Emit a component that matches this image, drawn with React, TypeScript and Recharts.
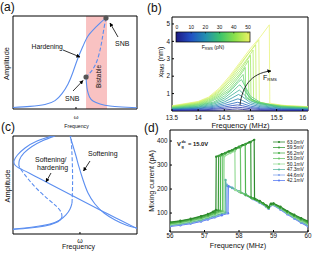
import React from 'react';
import { LineChart, Line, XAxis, YAxis, ReferenceArea, ReferenceDot, Legend } from 'recharts';

const FONT = '"Liberation Sans", Arial, Helvetica, sans-serif';
const BLUE = '#5b8ef0';

// ---------- panel (a): hardening response (arbitrary units 0-100)
const aUpper = [[0, 1.6], [13.7, 2.8], [25.8, 4.8], [33.9, 9], [39.5, 16.5], [44.4, 26.9], [48.4, 39.8], [52.4, 54.8], [56.5, 67.7], [60.5, 78.5], [66.1, 87.1], [71, 93.5], [75, 97.8]];
const aUnstable = [[75, 97.8], [73.4, 87.1], [71.8, 74.2], [70.2, 63.4], [67.7, 51.6], [64.5, 43], [61.3, 37.6], [58.9, 34.4]];
const aLower = [[58.9, 34.4], [59.3, 26.9], [60.1, 19.4], [61.7, 12.9], [64.5, 8.6], [70.2, 5.4], [78.2, 3.2], [87.9, 2.2], [100, 1.4]];
const aSNB = [[75, 97.8], [58.9, 34.4]];
const aBistable = [58.9, 75.8];
const aOmega = [50.8];

// ---------- panel (c): softening and softening/hardening (arbitrary units 0-100)
const cSoftLower = [[0, 5.1], [16.1, 7.1], [29.8, 10.2], [37.9, 14.3], [42.7, 19.4], [46, 25.5], [47.6, 31.6]];
const cSoftUnstable = [[47.6, 31.6], [48, 46.9], [48, 63.3], [47.6, 80.6], [46.8, 100]];
const cSoftUpper = [[46, 100], [48.4, 89.8], [50.8, 79.6], [53.2, 68.4], [56.5, 55.1], [60.5, 41.8], [66.1, 30.6], [73.4, 21.4], [82.3, 14.3], [91.1, 9.2], [100, 6.1]];
const cSHOuter = [[31.5, 100], [19.4, 94.9], [9.7, 87.8], [3.6, 80.6], [0.8, 74.5], [1.6, 70.4], [4.8, 67.3], [13.7, 61.7], [29.8, 51], [50, 37.8], [70.2, 24.5], [86.3, 14.3], [100, 5.6]];
const cSHInnerLower = [[0, 4.6], [13.7, 6.1], [25.8, 8.2], [33.9, 11.2], [37.9, 14.3], [39.5, 17.3]];
const cSHInnerUnstable = [[39.5, 17.3], [38.7, 22.4], [34.7, 28.6], [28.2, 35.7], [20.2, 44.9], [12.9, 55.1], [7.3, 64.3], [4.8, 69.4]];
const cSHInnerUpper = [[4.8, 69.4], [5.2, 75.5], [8.9, 82.7], [15.3, 89.3], [23.4, 94.9], [33.9, 100]];
const cOmega = [54];

// ---------- panel (b): x_RMS (nm) vs frequency (MHz), one curve per drive force
const bF50 = [[13.5, 0.3], [14.0, 0.55], [14.2, 0.8], [14.4, 1.3], [14.6, 2.0], [14.8, 2.8], [15.0, 3.6], [15.2, 4.3], [15.36, 4.95], [15.37, 0.45], [15.6, 0.33], [16.1, 0.25]];
const bF47 = [[13.5, 0.28], [14.0, 0.52], [14.2, 0.76], [14.4, 1.22], [14.6, 1.9], [14.8, 2.7], [15.0, 3.45], [15.16, 4.1], [15.17, 0.5], [15.4, 0.38], [15.7, 0.3], [16.1, 0.24]];
const bF44 = [[13.5, 0.26], [14.0, 0.49], [14.2, 0.72], [14.4, 1.15], [14.6, 1.8], [14.8, 2.6], [14.95, 3.25], [15.1, 3.8], [15.11, 0.55], [15.4, 0.36], [15.7, 0.28], [16.1, 0.22]];
const bF41 = [[13.5, 0.25], [14.0, 0.46], [14.2, 0.68], [14.4, 1.08], [14.6, 1.7], [14.8, 2.45], [14.95, 3.05], [15.05, 3.5], [15.06, 0.6], [15.3, 0.4], [15.7, 0.27], [16.1, 0.21]];
const bF38 = [[13.5, 0.24], [14.0, 0.43], [14.2, 0.63], [14.4, 1.0], [14.6, 1.58], [14.8, 2.3], [14.92, 2.85], [15.0, 3.2], [15.01, 0.65], [15.3, 0.38], [15.7, 0.26], [16.1, 0.2]];
const bF35 = [[13.5, 0.22], [14.0, 0.4], [14.2, 0.58], [14.4, 0.93], [14.6, 1.45], [14.8, 2.15], [14.9, 2.6], [14.96, 2.9], [14.97, 0.7], [15.2, 0.42], [15.6, 0.27], [16.1, 0.2]];
const bF32 = [[13.5, 0.2], [14.0, 0.37], [14.2, 0.53], [14.4, 0.85], [14.6, 1.3], [14.75, 1.85], [14.85, 2.25], [14.9, 2.5], [14.91, 0.75], [15.1, 0.48], [15.5, 0.28], [16.1, 0.19]];
const bF29 = [[13.5, 0.19], [14.0, 0.34], [14.2, 0.48], [14.4, 0.77], [14.6, 1.18], [14.75, 1.7], [14.86, 2.1], [14.88, 1.6], [14.95, 0.9], [15.1, 0.5], [15.5, 0.27], [16.1, 0.18]];
const bF26 = [[13.5, 0.17], [14.0, 0.3], [14.3, 0.52], [14.5, 0.85], [14.65, 1.25], [14.78, 1.7], [14.83, 1.8], [14.9, 1.4], [15.0, 0.85], [15.2, 0.48], [15.6, 0.25], [16.1, 0.17]];
const bF23 = [[13.5, 0.15], [14.0, 0.27], [14.3, 0.46], [14.5, 0.74], [14.65, 1.1], [14.77, 1.45], [14.8, 1.5], [14.88, 1.2], [15.0, 0.72], [15.2, 0.42], [15.6, 0.22], [16.1, 0.15]];
const bF20 = [[13.5, 0.13], [14.0, 0.23], [14.3, 0.4], [14.5, 0.63], [14.65, 0.93], [14.76, 1.15], [14.79, 1.2], [14.86, 1.0], [15.0, 0.58], [15.2, 0.36], [15.6, 0.19], [16.1, 0.13]];
const bF17 = [[13.5, 0.11], [14.0, 0.2], [14.3, 0.33], [14.5, 0.52], [14.65, 0.75], [14.77, 0.95], [14.85, 0.82], [15.0, 0.48], [15.2, 0.3], [15.6, 0.16], [16.1, 0.11]];
const bF14 = [[13.5, 0.09], [14.0, 0.16], [14.3, 0.27], [14.5, 0.42], [14.65, 0.58], [14.76, 0.7], [14.85, 0.6], [15.0, 0.38], [15.2, 0.24], [15.6, 0.13], [16.1, 0.09]];
const bF11 = [[13.5, 0.07], [14.0, 0.13], [14.3, 0.21], [14.5, 0.32], [14.65, 0.43], [14.75, 0.5], [14.85, 0.43], [15.0, 0.28], [15.2, 0.18], [15.6, 0.1], [16.1, 0.07]];
const bF8 = [[13.5, 0.05], [14.0, 0.09], [14.3, 0.15], [14.5, 0.23], [14.65, 0.31], [14.75, 0.35], [14.85, 0.3], [15.0, 0.2], [15.2, 0.13], [15.6, 0.07], [16.1, 0.05]];
const bF5 = [[13.5, 0.03], [14.0, 0.06], [14.3, 0.1], [14.5, 0.15], [14.65, 0.2], [14.75, 0.22], [14.85, 0.19], [15.0, 0.13], [15.2, 0.08], [15.6, 0.05], [16.1, 0.03]];
const bF2 = [[13.5, 0.01], [14.0, 0.02], [14.3, 0.04], [14.5, 0.06], [14.65, 0.1], [14.75, 0.12], [14.85, 0.09], [15.0, 0.05], [15.2, 0.03], [15.6, 0.02], [16.1, 0.01]];
const bCurveData = [bF50, bF47, bF44, bF41, bF38, bF35, bF32, bF29, bF26, bF23, bF20, bF17, bF14, bF11, bF8, bF5, bF2];
const bColors = ['#eaf47e', '#d8f272', '#c6ef6a', '#b4ec66', '#a2e864', '#90e466', '#7edd6c', '#6cd674', '#5acc7e', '#48bf88', '#38ae94', '#2c9aa2', '#2682b0', '#2468bc', '#244cbc', '#2534aa', '#201e8a'];
const bXTicks = [13.5, 14, 14.5, 15, 15.5, 16];
const bYTicks = [1, 2, 3, 4, 5];
const bBarTicks = [0, 10, 20, 30, 40, 50];

// ---------- panel (d): mixing current (pA) vs frequency (MHz)
const d630 = [[56.0, 62], [56.3, 68], [56.6, 76], [56.9, 87], [57.1, 96], [57.25, 106], [57.33, 113], [57.34, 335], [57.5, 345], [57.7, 357], [57.9, 370], [58.1, 383], [58.3, 395], [58.44, 405], [58.45, 160], [58.6, 150], [58.8, 131], [58.86, 124], [58.93, 139], [59.0, 140], [59.2, 126], [59.4, 108], [59.6, 93], [59.8, 79], [60.0, 66]];
const d595 = [[56.0, 60], [56.3, 66], [56.6, 74], [56.9, 85], [57.1, 94], [57.3, 105], [57.4, 112], [57.41, 338], [57.6, 350], [57.8, 362], [58.0, 376], [58.2, 388], [58.34, 396], [58.35, 165], [58.5, 156], [58.7, 141], [58.85, 124], [58.92, 138], [59.0, 139], [59.2, 124], [59.4, 106], [59.6, 91], [59.8, 77], [60.0, 63]];
const d562 = [[56.0, 57], [56.3, 63], [56.6, 71], [56.9, 81], [57.1, 90], [57.3, 100], [57.46, 110], [57.47, 340], [57.6, 348], [57.8, 361], [58.0, 374], [58.18, 385], [58.19, 175], [58.4, 162], [58.6, 148], [58.8, 130], [58.86, 123], [58.93, 137], [59.0, 138], [59.2, 122], [59.4, 104], [59.6, 88], [59.8, 74], [60.0, 60]];
const d530 = [[56.0, 55], [56.3, 61], [56.6, 68], [56.9, 78], [57.1, 87], [57.3, 97], [57.52, 108], [57.53, 342], [57.7, 354], [57.9, 366], [58.04, 374], [58.05, 185], [58.2, 176], [58.4, 161], [58.6, 147], [58.8, 129], [58.86, 122], [58.93, 136], [59.0, 137], [59.2, 121], [59.4, 102], [59.6, 86], [59.8, 71], [60.0, 57]];
const d501 = [[56.0, 53], [56.3, 58], [56.6, 65], [56.9, 75], [57.1, 84], [57.3, 94], [57.56, 106], [57.57, 336], [57.75, 350], [57.88, 358], [57.89, 196], [58.0, 189], [58.2, 175], [58.4, 160], [58.6, 146], [58.8, 128], [58.86, 121], [58.93, 135], [59.0, 136], [59.2, 120], [59.4, 100], [59.6, 84], [59.8, 68], [60.0, 54]];
const d473 = [[56.0, 50], [56.3, 55], [56.6, 62], [56.9, 71], [57.1, 80], [57.3, 89], [57.6, 102], [57.61, 238], [57.63, 215], [57.8, 205], [58.0, 191], [58.2, 177], [58.4, 160], [58.6, 145], [58.8, 127], [58.86, 120], [58.93, 134], [59.0, 135], [59.2, 118], [59.4, 99], [59.6, 81], [59.8, 65], [60.0, 50]];
const d446 = [[56.0, 47], [56.3, 52], [56.6, 59], [56.9, 68], [57.1, 76], [57.3, 85], [57.64, 100], [57.65, 218], [57.8, 206], [58.0, 190], [58.2, 176], [58.4, 159], [58.6, 144], [58.8, 126], [58.86, 119], [58.93, 133], [59.0, 134], [59.2, 116], [59.4, 97], [59.6, 79], [59.8, 62], [60.0, 47]];
const d421 = [[56.0, 44], [56.3, 49], [56.6, 56], [56.9, 65], [57.1, 73], [57.3, 82], [57.5, 91], [57.68, 99], [57.69, 212], [57.8, 204], [58.0, 189], [58.2, 175], [58.4, 158], [58.6, 143], [58.8, 125], [58.86, 118], [58.93, 132], [59.0, 133], [59.2, 115], [59.4, 95], [59.6, 77], [59.8, 60], [60.0, 44]];
const dLabels = ['63.0mV', '59.5mV', '56.2mV', '53.0mV', '50.1mV', '47.3mV', '44.6mV', '42.1mV'];
const dData = [d630, d595, d562, d530, d501, d473, d446, d421];
const dColors = ['#2e8b2e', '#3d9e3d', '#4fb34f', '#6cc56c', '#98dc98', '#5db8a2', '#86a6ec', '#5a7cf2'];
const dXTicks = [56, 57, 58, 59, 60];
const dYTicks = [100, 200, 300, 400];

const toPts = (a: number[][]) => a.map(([x, y]) => ({ x, y }));
const tickStyle = { fontSize: 6.3, fill: '#111', fontFamily: FONT };

const blueLine = (arr: number[][], key: string, dashed = false) => (
  <Line key={key} data={toPts(arr)} dataKey="y" type="natural" stroke={BLUE} strokeWidth={1.1}
    strokeDasharray={dashed ? '4 2' : undefined} dot={false} isAnimationActive={false} />
);

function PanelA() {
  return (
    <LineChart width={155} height={128} margin={{ top: 16, right: 18, bottom: 0, left: 0 }}>
      <XAxis type="number" dataKey="x" domain={[0, 100]} allowDataOverflow ticks={aOmega} interval={0}
        tickFormatter={() => 'ω'} height={19} axisLine={false} tickSize={-2} tickMargin={8}
        tick={{ fontSize: 6, fill: '#111', fontFamily: FONT }} stroke="#000" />
      <YAxis type="number" domain={[0, 100]} allowDataOverflow width={13} tick={false} axisLine={false} tickLine={false} />
      <ReferenceArea x1={aBistable[0]} x2={aBistable[1]} y1={0} y2={100} fill="#f9c2c2" fillOpacity={1} stroke="none" />
      {blueLine(aUpper, 'u')}
      {blueLine(aUnstable, 'm', true)}
      {blueLine(aLower, 'l')}
      {aSNB.map(([x, y], i) => <ReferenceDot key={i} x={x} y={y} r={2.6} fill="#555" stroke="none" />)}
      <ReferenceArea x1={0} x2={100} y1={0} y2={100} fill="none" stroke="#000" strokeWidth={1} />
    </LineChart>
  );
}

function PanelC() {
  return (
    <LineChart width={155} height={128} margin={{ top: 8, right: 18, bottom: 0, left: 0 }}>
      <XAxis type="number" dataKey="x" domain={[0, 100]} allowDataOverflow ticks={cOmega} interval={0}
        tickFormatter={() => 'ω'} height={22} axisLine={false} tickSize={-2} tickMargin={6}
        tick={{ fontSize: 7, fill: '#111', fontFamily: FONT }} stroke="#000" />
      <YAxis type="number" domain={[0, 100]} allowDataOverflow width={13} tick={false} axisLine={false} tickLine={false} />
      {blueLine(cSoftLower, 'sl')}
      {blueLine(cSoftUnstable, 'sm', true)}
      {blueLine(cSoftUpper, 'su')}
      {blueLine(cSHOuter, 'ho')}
      {blueLine(cSHInnerLower, 'hl')}
      {blueLine(cSHInnerUnstable, 'hm', true)}
      {blueLine(cSHInnerUpper, 'hu')}
      <ReferenceArea x1={0} x2={100} y1={0} y2={100} fill="none" stroke="#000" strokeWidth={1} />
    </LineChart>
  );
}

function PanelB() {
  const order = bCurveData.map((d, i) => i);
  return (
    <LineChart width={160} height={128} margin={{ top: 17, right: 7, bottom: 0, left: 0 }}>
      <XAxis type="number" dataKey="x" domain={[13.5, 16.1]} allowDataOverflow ticks={bXTicks} interval={0}
        tickFormatter={(v: number) => String(v)} height={17} axisLine={false} tickSize={-2} tickMargin={7}
        tick={tickStyle} stroke="#000" />
      <YAxis type="number" domain={[0, 5.4]} allowDataOverflow ticks={bYTicks} interval={0} width={17}
        axisLine={false} tickSize={-2} tickMargin={4} tick={tickStyle} stroke="#000" />
      {order.map((i) => (
        <Line key={i} data={toPts(bCurveData[i])} dataKey="y" type="linear" stroke={bColors[i]} strokeWidth={0.8}
          dot={false} isAnimationActive={false} />
      ))}
      <ReferenceArea x1={13.5} x2={16.1} y1={0} y2={5.4} fill="none" stroke="#000" strokeWidth={1} />
    </LineChart>
  );
}

function DLegend() {
  return (
    <svg width={44} height={48} style={{ display: 'block' }}>
      {dLabels.map((lab, i) => {
        const y = 3 + i * 5.5;
        return (
          <g key={lab}>
            <line x1={2} x2={14} y1={y} y2={y} stroke={dColors[i]} strokeWidth={0.8} />
            <circle cx={8} cy={y} r={1.1} fill={dColors[i]} />
            <text x={16} y={y + 1.7} fontSize={4.9} fontFamily={FONT} fill="#111">{lab}</text>
          </g>
        );
      })}
    </svg>
  );
}

function PanelD() {
  const idx = dData.map((d, i) => i).reverse();
  return (
    <LineChart width={160} height={128} margin={{ top: 2, right: 7, bottom: 0, left: 0 }}>
      <XAxis type="number" dataKey="x" domain={[56, 60]} allowDataOverflow ticks={dXTicks} interval={0}
        height={24} axisLine={false} tickSize={-2} tickMargin={4} tick={tickStyle} stroke="#000" />
      <YAxis type="number" domain={[21, 446]} allowDataOverflow ticks={dYTicks} interval={0} width={15}
        axisLine={false} tickSize={-2} tickMargin={4.5} tick={tickStyle} stroke="#000" />
      {idx.map((i) => (
        <Line key={i} data={toPts(dData[i])} dataKey="y" type="linear" stroke={dColors[i]} strokeWidth={1.2}
          dot={{ r: 1.2, fill: dColors[i], stroke: 'none', strokeWidth: 0 }} isAnimationActive={false} />
      ))}
      <ReferenceArea x1={56} x2={60} y1={21} y2={446} fill="none" stroke="#000" strokeWidth={1} />
      <Legend layout="vertical" align="center" verticalAlign="middle"
        wrapperStyle={{ left: 116, top: 11, width: 44, height: 48 }} content={() => <DLegend />} />
    </LineChart>
  );
}

function Overlay() {
  const arr = (d: string) => <path d={d} stroke="#000" strokeWidth={0.8} fill="none" markerEnd="url(#ah)" />;
  return (
    <svg width={315} height={256} style={{ position: 'absolute', left: 0, top: 0, pointerEvents: 'none' }}
      fontFamily={FONT} fill="#111">
      <defs>
        <marker id="ah" viewBox="0 0 10 10" refX="9" refY="5" markerWidth="4" markerHeight="4"
          markerUnits="userSpaceOnUse" orient="auto">
          <path d="M0,0 L10,5 L0,10 z" fill="#000" />
        </marker>
        <linearGradient id="cbar" x1="0" x2="1" y1="0" y2="0">
          <stop offset="0" stopColor="#1e1a84" />
          <stop offset="0.2" stopColor="#2250c4" />
          <stop offset="0.4" stopColor="#2390b0" />
          <stop offset="0.6" stopColor="#3cc46c" />
          <stop offset="0.8" stopColor="#8ee24a" />
          <stop offset="1" stopColor="#eef264" />
        </linearGradient>
      </defs>
      {/* panel labels */}
      <text x={0} y={11} fontSize={12}>(a)</text>
      <text x={147} y={12} fontSize={12}>(b)</text>
      <text x={1} y={131} fontSize={12}>(c)</text>
      <text x={144} y={132} fontSize={12}>(d)</text>

      {/* (a) */}
      <text transform="translate(9,63.5) rotate(-90)" textAnchor="middle" fontSize={7.4}>Amplitude</text>
      <text x={76.5} y={127.5} textAnchor="middle" fontSize={5.2}>Frequency</text>
      <text x={31.5} y={49} fontSize={6.8}>Hardening</text>
      {arr('M63,50 L80,57')}
      <text x={115} y={45.5} fontSize={7}>SNB</text>
      {arr('M118,37 L110,23')}
      <text x={65} y={100.5} fontSize={7}>SNB</text>
      {arr('M73,91 L83,80.5')}
      <text transform="translate(100.5,76.5) rotate(-90)" textAnchor="middle" fontSize={6.5}>Bistable</text>

      {/* (c) */}
      <text transform="translate(9.5,186) rotate(-90)" textAnchor="middle" fontSize={7.4}>Amplitude</text>
      <text x={78.5} y={248.5} textAnchor="middle" fontSize={7}>Frequency</text>
      <text x={88} y={155.5} fontSize={7}>Softening</text>
      {arr('M90,161 L83.5,171')}
      <text x={35} y={162} fontSize={7}>Softening/</text>
      <text x={37} y={169.5} fontSize={7}>hardening</text>
      {arr('M51,173 L46,182')}

      {/* (b) */}
      <text transform="translate(162.5,62) rotate(-90)" textAnchor="middle" fontSize={7.3}>
        x<tspan fontSize={4.6} dy={1.6}>RMS</tspan><tspan dy={-1.6}> (nm)</tspan>
      </text>
      <text x={240.5} y={127.5} textAnchor="middle" fontSize={7.5}>Frequency (MHz)</text>
      <rect x={176} y={32} width={74} height={10} fill="url(#cbar)" stroke="#000" strokeWidth={0.7} />
      {bBarTicks.map((t, i) => (
        <g key={t}>
          <line x1={177 + i * 14.2} x2={177 + i * 14.2} y1={32} y2={33.5} stroke="#000" strokeWidth={0.5} />
          <text x={177 + i * 14.2} y={29} textAnchor="middle" fontSize={5}>{t}</text>
        </g>
      ))}
      <text x={213} y={48.5} textAnchor="middle" fontSize={5.2}>
        F<tspan fontSize={3.6} dy={1.2}>RMS</tspan><tspan dy={-1.2}> (pN)</tspan>
      </text>
      {arr('M240,105 C242,88 250,73 271,71')}
      <text x={263} y={79.5} fontSize={7}>
        F<tspan fontSize={4.3} dy={1.5}>RMS</tspan>
      </text>

      {/* (d) */}
      <text transform="translate(154,181) rotate(-90)" textAnchor="middle" fontSize={7.3}>Mixing current (pA)</text>
      <text x={238} y={248} textAnchor="middle" fontSize={7.3}>Frequency (MHz)</text>
      <text x={177} y={146} fontSize={5.8} fontWeight="bold">V</text>
      <text x={181.5} y={142.5} fontSize={3.8} fontWeight="bold">dc</text>
      <text x={181.5} y={148} fontSize={3.8} fontWeight="bold">g</text>
      <text x={188} y={146} fontSize={5.8} fontWeight="bold">= 15.0V</text>
    </svg>
  );
}

export default function App() {
  return (
    <div style={{ position: 'absolute', left: 0, top: 0, width: 315, height: 256, background: '#fff', fontFamily: FONT }}>
      <div style={{ position: 'absolute', left: 0, top: 0 }}><PanelA /></div>
      <div style={{ position: 'absolute', left: 155, top: 0 }}><PanelB /></div>
      <div style={{ position: 'absolute', left: 0, top: 128 }}><PanelC /></div>
      <div style={{ position: 'absolute', left: 155, top: 128 }}><PanelD /></div>
      <Overlay />
    </div>
  );
}
